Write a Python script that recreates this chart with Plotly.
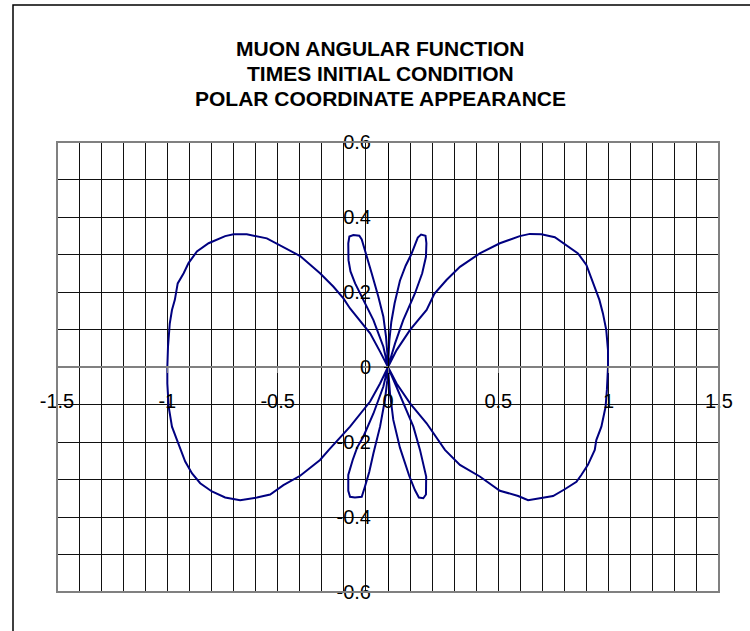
import plotly.graph_objects as go

# Angular function traced in the x-y plane, one list pair per lobe / petal.
right_lobe_upper_x = [0.997, 0.997, 0.989, 0.974, 0.958, 0.929, 0.899, 0.861, 0.808, 0.756,
                      0.695, 0.643, 0.597, 0.507, 0.416, 0.326, 0.265, 0.210, 0.175, 0.100,
                      0.039, 0.000]
right_lobe_upper_y = [0.000, 0.045, 0.099, 0.143, 0.179, 0.223, 0.272, 0.303, 0.325, 0.346,
                      0.354, 0.355, 0.349, 0.330, 0.303, 0.267, 0.232, 0.195, 0.152, 0.099,
                      0.045, 0.000]

right_petal_upper_x = [0.032, 0.069, 0.122, 0.155, 0.172, 0.174, 0.170, 0.150, 0.135, 0.105,
                       0.080, 0.054, 0.030, 0.015, 0.006, 0.002, 0.000]
right_petal_upper_y = [0.063, 0.125, 0.196, 0.250, 0.294, 0.330, 0.350, 0.353, 0.345, 0.300,
                       0.270, 0.230, 0.170, 0.120, 0.070, 0.030, 0.000]

left_petal_upper_x = [-0.003, -0.009, -0.021, -0.044, -0.074, -0.096, -0.119, -0.130, -0.157,
                      -0.175, -0.180, -0.179, -0.170, -0.149, -0.112, -0.066, -0.021, 0.000]
left_petal_upper_y = [0.036, 0.081, 0.134, 0.188, 0.250, 0.294, 0.340, 0.350, 0.352,
                      0.348, 0.330, 0.285, 0.255, 0.223, 0.179, 0.125, 0.054, 0.000]

left_lobe_x = [-0.036, -0.081, -0.172, -0.202, -0.247, -0.308, -0.398, -0.489, -0.549, -0.640,
               -0.700, -0.738, -0.813, -0.866, -0.904, -0.926, -0.953, -0.966, -0.979, -0.989,
               -0.997, -1.000, -1.000, -0.994, -0.979, -0.956, -0.935, -0.919, -0.888, -0.851,
               -0.798, -0.738, -0.670, -0.594, -0.534, -0.474, -0.398, -0.308, -0.265, -0.172,
               -0.081, -0.036, 0.000]
left_lobe_y = [0.041, 0.090, 0.156, 0.183, 0.214, 0.250, 0.296, 0.323, 0.343, 0.354,
               0.354, 0.349, 0.330, 0.308, 0.277, 0.250, 0.223, 0.179, 0.152, 0.116,
               0.054, 0.000, -0.044, -0.106, -0.159, -0.195, -0.225, -0.252, -0.284, -0.310,
               -0.332, -0.348, -0.355, -0.348, -0.340, -0.315, -0.290, -0.248, -0.219, -0.159,
               -0.092, -0.044, 0.000]

left_petal_lower_x = [-0.003, -0.014, -0.036, -0.066, -0.085, -0.105, -0.119, -0.150, -0.172,
                      -0.180, -0.180, -0.160, -0.140, -0.112, -0.066, -0.021, 0.000]
left_petal_lower_y = [-0.035, -0.088, -0.159, -0.230, -0.280, -0.320, -0.346, -0.348, -0.346,
                      -0.330, -0.288, -0.248, -0.215, -0.186, -0.124, -0.052, 0.000]

right_petal_lower_x = [0.009, 0.024, 0.054, 0.077, 0.096, 0.122, 0.140, 0.160, 0.172, 0.173,
                       0.160, 0.145, 0.115, 0.069, 0.032, 0.000]
right_petal_lower_y = [-0.070, -0.141, -0.215, -0.257, -0.290, -0.328, -0.348, -0.350, -0.340,
                       -0.292, -0.257, -0.221, -0.159, -0.097, -0.044, 0.000]

right_lobe_lower_x = [0.039, 0.100, 0.175, 0.235, 0.258, 0.326, 0.416, 0.507, 0.590, 0.635,
                      0.695, 0.748, 0.801, 0.854, 0.876, 0.906, 0.937, 0.944, 0.967, 0.986,
                      0.992, 0.997]
right_lobe_lower_y = [-0.044, -0.097, -0.150, -0.199, -0.221, -0.261, -0.292, -0.330, -0.344,
                      -0.355, -0.350, -0.344, -0.326, -0.306, -0.288, -0.261, -0.221, -0.195,
                      -0.159, -0.106, -0.061, 0.000]

x_tick_vals = [-1.5, -1.0, -0.5, 0.0, 0.5, 1.0, 1.5]
x_tick_text = ["-1.5", "-1", "-0.5", "0", "0.5", "1", "1.5"]
y_tick_vals = [-0.6, -0.4, -0.2, 0.0, 0.2, 0.4, 0.6]
y_tick_text = ["-0.6", "-0.4", "-0.2", "0", "0.2", "0.4", "0.6"]

title_lines = ["MUON ANGULAR FUNCTION", "TIMES INITIAL CONDITION", "POLAR COORDINATE APPEARANCE"]

xs = (right_lobe_upper_x + right_petal_upper_x + left_petal_upper_x + left_lobe_x
      + left_petal_lower_x + right_petal_lower_x + right_lobe_lower_x)
ys = (right_lobe_upper_y + right_petal_upper_y + left_petal_upper_y + left_lobe_y
      + left_petal_lower_y + right_petal_lower_y + right_lobe_lower_y)

FONT = "Liberation Sans, Arial, sans-serif"
GRID = "#111111"

fig = go.Figure()
fig.add_trace(go.Scatter(x=xs, y=ys, mode="lines",
                         line=dict(color="#000080", width=2),
                         hoverinfo="skip", showlegend=False))

W, H = 750, 631
L, R, T, B = 57, 31, 142, 39
pw, ph = W - L - R, H - T - B

def px_to_paper_x(px):
    return (px - L) / pw

def px_to_paper_y(py):
    return (H - B - py) / ph

# three title lines, centred on their own baselines
title_centres = [48, 73.5, 99]
annotations = [
    dict(text="<b>%s</b>" % line, xref="paper", yref="paper",
         x=px_to_paper_x(380), y=px_to_paper_y(cy),
         xanchor="center", yanchor="middle", showarrow=False,
         font=dict(family=FONT, size=21, color="black"))
    for line, cy in zip(title_lines, title_centres)
]

fig.update_layout(
    width=W, height=H,
    margin=dict(l=L, r=R, t=T, b=B, pad=0),
    paper_bgcolor="white", plot_bgcolor="white",
    font=dict(family=FONT, color="black"),
    annotations=annotations,
    xaxis=dict(range=[-1.5, 1.5], anchor="free", position=0.5,
               tickvals=x_tick_vals, ticktext=x_tick_text,
               tickfont=dict(family=FONT, size=20, color="black"),
               ticks="outside", ticklen=5, tickcolor="#808080", tickwidth=1,
               ticklabelstandoff=11,
               showline=True, linecolor="#808080", linewidth=2,
               showgrid=True, gridcolor=GRID, gridwidth=1,
               minor=dict(dtick=0.1, showgrid=True, gridcolor=GRID, gridwidth=1),
               zeroline=False, fixedrange=True),
    yaxis=dict(range=[-0.6, 0.6], anchor="free", position=0.5,
               tickvals=y_tick_vals, ticktext=y_tick_text,
               tickfont=dict(family=FONT, size=20, color="black"),
               ticks="outside", ticklen=4, tickcolor="black", tickwidth=1,
               ticklabelstandoff=9,
               showline=True, linecolor="black", linewidth=1,
               showgrid=True, gridcolor=GRID, gridwidth=1,
               minor=dict(dtick=0.1, showgrid=True, gridcolor=GRID, gridwidth=1),
               zeroline=False, fixedrange=True),
    shapes=[
        # plot-area frame
        dict(type="rect", xref="paper", yref="paper", x0=0, y0=0, x1=1, y1=1,
             line=dict(color="#808080", width=2), layer="above"),
        # chart-area frame
        dict(type="rect", xref="paper", yref="paper",
             x0=px_to_paper_x(13), y0=px_to_paper_y(645),
             x1=px_to_paper_x(765), y1=px_to_paper_y(5),
             line=dict(color="black", width=1.5), layer="above"),
    ],
)

fig.write_html("out.html")
